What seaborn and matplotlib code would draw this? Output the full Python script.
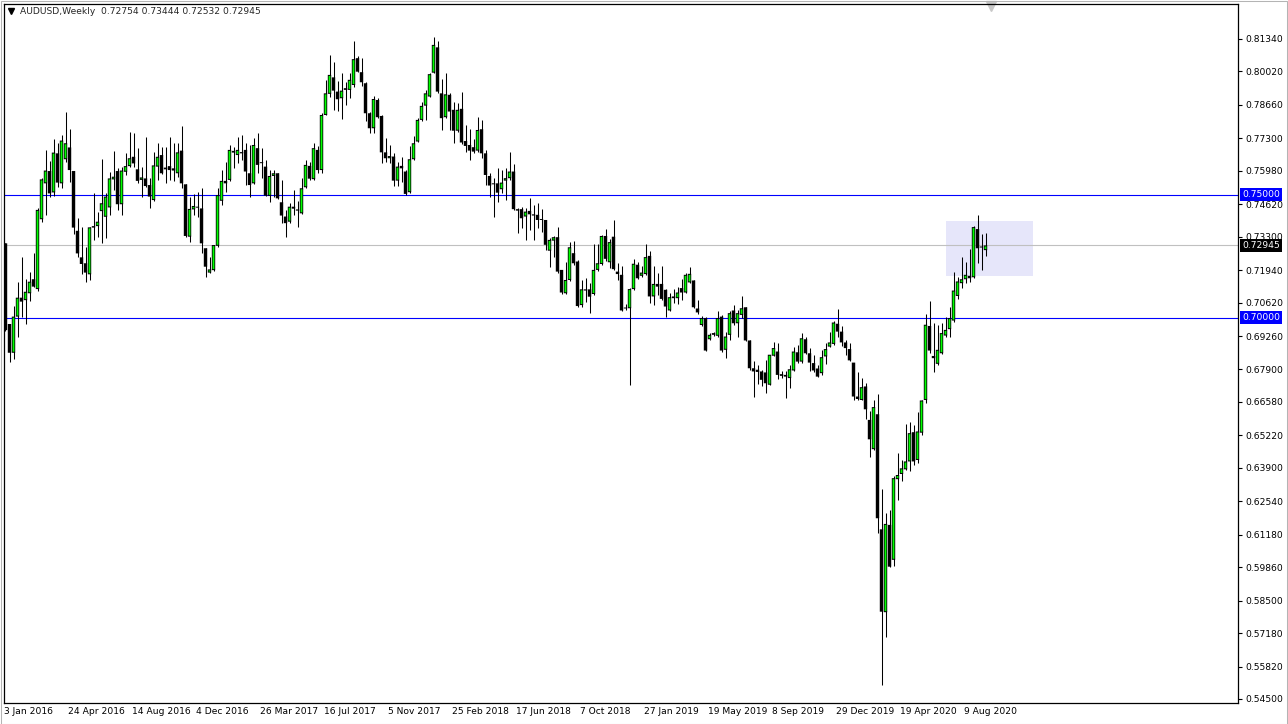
import numpy as np
import pandas as pd
import matplotlib.pyplot as plt
import seaborn as sns
from matplotlib.patches import Rectangle
from matplotlib.transforms import ScaledTranslation

# estilo base
sns.set_style("white")
plt.rcParams['font.family'] = ['DejaVu Sans']

# AUDUSD semanal, 3 Jan 2016 .. 13 Sep 2020
opens = [
    0.7303, 0.6975, 0.6858, 0.7005, 0.7082, 0.7072, 0.7100, 0.7157, 0.7117, 0.7401,
    0.7547, 0.7597, 0.7510, 0.7669, 0.7547, 0.7645, 0.7693, 0.7597, 0.7354, 0.7246,
    0.7222, 0.7177, 0.7367, 0.7373, 0.7434, 0.7411, 0.7449, 0.7563, 0.7597, 0.7462,
    0.7594, 0.7617, 0.7655, 0.7604, 0.7561, 0.7567, 0.7540, 0.7479, 0.7615, 0.7662,
    0.7611, 0.7617, 0.7608, 0.7588, 0.7680, 0.7543, 0.7330, 0.7441, 0.7449, 0.7445,
    0.7283, 0.7184, 0.7194, 0.7293, 0.7476, 0.7557, 0.7561, 0.7679, 0.7662, 0.7674,
    0.7683, 0.7588, 0.7547, 0.7690, 0.7631, 0.7615, 0.7496, 0.7577, 0.7588, 0.7470,
    0.7412, 0.7391, 0.7452, 0.7441, 0.7425, 0.7531, 0.7618, 0.7564, 0.7683, 0.7601,
    0.7825, 0.7911, 0.7978, 0.7920, 0.7893, 0.7927, 0.7927, 0.7947, 0.8056, 0.7999,
    0.7954, 0.7832, 0.7771, 0.7886, 0.7821, 0.7673, 0.7649, 0.7656, 0.7558, 0.7618,
    0.7595, 0.7511, 0.7645, 0.7717, 0.7805, 0.7863, 0.7900, 0.7997, 0.8100, 0.7913,
    0.7816, 0.7907, 0.7846, 0.7761, 0.7850, 0.7719, 0.7703, 0.7694, 0.7680, 0.7767,
    0.7669, 0.7577, 0.7547, 0.7547, 0.7523, 0.7558, 0.7568, 0.7595, 0.7442, 0.7442,
    0.7412, 0.7435, 0.7421, 0.7419, 0.7401, 0.7398, 0.7273, 0.7314, 0.7328, 0.7195,
    0.7100, 0.7154, 0.7263, 0.7229, 0.7052, 0.7116, 0.7116, 0.7097, 0.7195, 0.7219,
    0.7333, 0.7226, 0.7330, 0.7188, 0.7175, 0.7039, 0.7039, 0.7117, 0.7216, 0.7171,
    0.7178, 0.7252, 0.7087, 0.7138, 0.7138, 0.7114, 0.7030, 0.7087, 0.7080, 0.7121,
    0.7103, 0.7144, 0.7152, 0.7038, 0.6971, 0.6999, 0.6913, 0.6931, 0.6927, 0.7005,
    0.6870, 0.6931, 0.7030, 0.6978, 0.7012, 0.7043, 0.6908, 0.6795, 0.6789, 0.6782,
    0.6778, 0.6728, 0.6846, 0.6863, 0.6771, 0.6768, 0.6755, 0.6786, 0.6860, 0.6822,
    0.6913, 0.6856, 0.6816, 0.6794, 0.6775, 0.6843, 0.6883, 0.6894, 0.6976, 0.6944,
    0.6900, 0.6873, 0.6818, 0.6680, 0.6666, 0.6721, 0.6585, 0.6466, 0.6608, 0.6140,
    0.5803, 0.6158, 0.6016, 0.6344, 0.6365, 0.6384, 0.6416, 0.6535, 0.6422, 0.6533,
    0.6666, 0.6967, 0.6845, 0.6813, 0.6856, 0.6928, 0.6954, 0.6989, 0.7089, 0.7141,
    0.7157, 0.7171, 0.7165, 0.7361, 0.7290, 0.72754,
]
highs = [
    0.7306, 0.6975, 0.7048, 0.7147, 0.7249, 0.7157, 0.7188, 0.7262, 0.7445, 0.7570,
    0.7683, 0.7638, 0.7727, 0.7710, 0.7744, 0.7836, 0.7768, 0.7597, 0.7405, 0.7371,
    0.7289, 0.7368, 0.7506, 0.7432, 0.7645, 0.7506, 0.7594, 0.7680, 0.7608, 0.7615,
    0.7669, 0.7757, 0.7750, 0.7689, 0.7615, 0.7737, 0.7567, 0.7676, 0.7712, 0.7696,
    0.7696, 0.7734, 0.7710, 0.7710, 0.7780, 0.7543, 0.7493, 0.7502, 0.7513, 0.7527,
    0.7283, 0.7249, 0.7296, 0.7527, 0.7601, 0.7635, 0.7703, 0.7696, 0.7737, 0.7744,
    0.7710, 0.7703, 0.7730, 0.7751, 0.7690, 0.7642, 0.7601, 0.7600, 0.7591, 0.7561,
    0.7439, 0.7466, 0.7520, 0.7475, 0.7568, 0.7642, 0.7635, 0.7713, 0.7699, 0.7835,
    0.7968, 0.8069, 0.8042, 0.7965, 0.7995, 0.7961, 0.7997, 0.8124, 0.8063, 0.8056,
    0.7961, 0.7839, 0.7903, 0.7893, 0.7825, 0.7730, 0.7703, 0.7672, 0.7635, 0.7656,
    0.7601, 0.7699, 0.7740, 0.7812, 0.7879, 0.7927, 0.7995, 0.8141, 0.8124, 0.7970,
    0.7995, 0.7913, 0.7879, 0.7873, 0.7920, 0.7785, 0.7767, 0.7726, 0.7816, 0.7805,
    0.7683, 0.7588, 0.7568, 0.7608, 0.7602, 0.7608, 0.7676, 0.7626, 0.7446, 0.7452,
    0.7446, 0.7486, 0.7459, 0.7466, 0.7442, 0.7398, 0.7324, 0.7333, 0.7368, 0.7195,
    0.7229, 0.7310, 0.7314, 0.7236, 0.7154, 0.7161, 0.7143, 0.7299, 0.7301, 0.7337,
    0.7360, 0.7320, 0.7398, 0.7222, 0.7212, 0.7057, 0.7121, 0.7239, 0.7229, 0.7209,
    0.7301, 0.7270, 0.7209, 0.7184, 0.7209, 0.7117, 0.7100, 0.7117, 0.7127, 0.7157,
    0.7184, 0.7206, 0.7155, 0.7073, 0.7008, 0.7003, 0.6938, 0.6944, 0.7026, 0.7012,
    0.6944, 0.7026, 0.7053, 0.7033, 0.7087, 0.7046, 0.6908, 0.6823, 0.6809, 0.6789,
    0.6829, 0.6850, 0.6900, 0.6897, 0.6782, 0.6782, 0.6809, 0.6883, 0.6890, 0.6938,
    0.6924, 0.6877, 0.6850, 0.6809, 0.6870, 0.6897, 0.6944, 0.6989, 0.7035, 0.6965,
    0.6911, 0.6897, 0.6818, 0.6778, 0.6755, 0.6737, 0.6623, 0.6664, 0.6691, 0.6303,
    0.6205, 0.6219, 0.6355, 0.6449, 0.6420, 0.6569, 0.6578, 0.6565, 0.6619, 0.6666,
    0.7016, 0.7070, 0.6981, 0.6972, 0.6981, 0.7003, 0.7043, 0.7188, 0.7168, 0.7247,
    0.7229, 0.7279, 0.7372, 0.7419, 0.7340, 0.73444,
]
lows = [
    0.6948, 0.6822, 0.6831, 0.6921, 0.7005, 0.6977, 0.7068, 0.7124, 0.7110, 0.7391,
    0.7417, 0.7493, 0.7497, 0.7533, 0.7527, 0.7632, 0.7554, 0.7340, 0.7249, 0.7177,
    0.7147, 0.7154, 0.7316, 0.7327, 0.7303, 0.7326, 0.7418, 0.7520, 0.7439, 0.7418,
    0.7581, 0.7615, 0.7615, 0.7550, 0.7493, 0.7533, 0.7445, 0.7476, 0.7561, 0.7585,
    0.7547, 0.7561, 0.7558, 0.7574, 0.7527, 0.7330, 0.7310, 0.7418, 0.7411, 0.7262,
    0.7167, 0.7181, 0.7192, 0.7289, 0.7459, 0.7513, 0.7558, 0.7608, 0.7628, 0.7642,
    0.7540, 0.7493, 0.7545, 0.7588, 0.7568, 0.7497, 0.7473, 0.7493, 0.7482, 0.7385,
    0.7330, 0.7387, 0.7418, 0.7371, 0.7422, 0.7527, 0.7561, 0.7561, 0.7591, 0.7588,
    0.7825, 0.7900, 0.7846, 0.7842, 0.7808, 0.7866, 0.7893, 0.7940, 0.8001, 0.7943,
    0.7802, 0.7751, 0.7751, 0.7812, 0.7629, 0.7635, 0.7629, 0.7536, 0.7536, 0.7554,
    0.7500, 0.7507, 0.7642, 0.7717, 0.7802, 0.7805, 0.7900, 0.7997, 0.7913, 0.7764,
    0.7812, 0.7764, 0.7713, 0.7757, 0.7707, 0.7676, 0.7642, 0.7669, 0.7676, 0.7649,
    0.7541, 0.7493, 0.7412, 0.7473, 0.7509, 0.7480, 0.7561, 0.7439, 0.7347, 0.7364,
    0.7317, 0.7358, 0.7317, 0.7364, 0.7351, 0.7276, 0.7206, 0.7249, 0.7184, 0.7097,
    0.7097, 0.7151, 0.7215, 0.7046, 0.7046, 0.7066, 0.7021, 0.7093, 0.7192, 0.7215,
    0.7230, 0.7202, 0.7195, 0.7155, 0.7029, 0.7033, 0.6725, 0.7114, 0.7157, 0.7168,
    0.7175, 0.7062, 0.7053, 0.7094, 0.7071, 0.7003, 0.7026, 0.7062, 0.7057, 0.7073,
    0.7100, 0.7141, 0.7039, 0.7016, 0.6965, 0.6867, 0.6911, 0.6927, 0.6924, 0.6863,
    0.6836, 0.6911, 0.6972, 0.6924, 0.6999, 0.6904, 0.6789, 0.6680, 0.6732, 0.6721,
    0.6694, 0.6725, 0.6843, 0.6751, 0.6755, 0.6673, 0.6714, 0.6782, 0.6818, 0.6818,
    0.6852, 0.6782, 0.6778, 0.6759, 0.6768, 0.6813, 0.6881, 0.6890, 0.6924, 0.6886,
    0.6850, 0.6823, 0.6667, 0.6664, 0.6664, 0.6588, 0.6436, 0.6463, 0.6124, 0.5507,
    0.5701, 0.5986, 0.5991, 0.6260, 0.6338, 0.6382, 0.6379, 0.6402, 0.6409, 0.6524,
    0.6653, 0.6856, 0.6778, 0.6809, 0.6854, 0.6924, 0.6924, 0.6985, 0.7076, 0.7121,
    0.7141, 0.7144, 0.7161, 0.7225, 0.7193, 0.72532,
]
closes = [
    0.6950, 0.6858, 0.7005, 0.7082, 0.7066, 0.7106, 0.7147, 0.7127, 0.7439, 0.7563,
    0.7599, 0.7506, 0.7672, 0.7550, 0.7721, 0.7710, 0.7601, 0.7367, 0.7262, 0.7219,
    0.7184, 0.7368, 0.7373, 0.7391, 0.7466, 0.7493, 0.7567, 0.7574, 0.7462, 0.7599,
    0.7617, 0.7649, 0.7628, 0.7557, 0.7571, 0.7536, 0.7493, 0.7620, 0.7655, 0.7588,
    0.7604, 0.7601, 0.7599, 0.7673, 0.7547, 0.7333, 0.7443, 0.7455, 0.7448, 0.7303,
    0.7208, 0.7197, 0.7296, 0.7499, 0.7557, 0.7547, 0.7683, 0.7672, 0.7683, 0.7669,
    0.7595, 0.7540, 0.7703, 0.7622, 0.7629, 0.7497, 0.7577, 0.7588, 0.7486, 0.7416,
    0.7385, 0.7452, 0.7444, 0.7436, 0.7527, 0.7622, 0.7566, 0.7690, 0.7601, 0.7825,
    0.7913, 0.7988, 0.7924, 0.7889, 0.7924, 0.7934, 0.7968, 0.8052, 0.8001, 0.7958,
    0.7832, 0.7771, 0.7890, 0.7816, 0.7673, 0.7649, 0.7658, 0.7558, 0.7615, 0.7608,
    0.7504, 0.7645, 0.7710, 0.7805, 0.7862, 0.7913, 0.7991, 0.8110, 0.7920, 0.7812,
    0.7909, 0.7839, 0.7761, 0.7846, 0.7713, 0.7699, 0.7680, 0.7676, 0.7764, 0.7669,
    0.7581, 0.7538, 0.7543, 0.7509, 0.7550, 0.7568, 0.7595, 0.7442, 0.7436, 0.7405,
    0.7432, 0.7421, 0.7416, 0.7398, 0.7398, 0.7297, 0.7317, 0.7328, 0.7188, 0.7103,
    0.7154, 0.7287, 0.7222, 0.7048, 0.7116, 0.7111, 0.7086, 0.7195, 0.7222, 0.7333,
    0.7240, 0.7308, 0.7198, 0.7178, 0.7030, 0.7038, 0.7117, 0.7220, 0.7161, 0.7184,
    0.7247, 0.7087, 0.7138, 0.7127, 0.7077, 0.7046, 0.7084, 0.7080, 0.7103, 0.7103,
    0.7175, 0.7179, 0.7043, 0.7022, 0.6999, 0.6867, 0.6931, 0.6938, 0.6999, 0.6867,
    0.6924, 0.7019, 0.6978, 0.7019, 0.7039, 0.6908, 0.6795, 0.6782, 0.6780, 0.6748,
    0.6734, 0.6850, 0.6877, 0.6768, 0.6764, 0.6761, 0.6791, 0.6863, 0.6822, 0.6917,
    0.6856, 0.6818, 0.6786, 0.6761, 0.6840, 0.6873, 0.6900, 0.6981, 0.6944, 0.6900,
    0.6877, 0.6827, 0.6680, 0.6670, 0.6718, 0.6628, 0.6506, 0.6637, 0.6185, 0.5805,
    0.6162, 0.5988, 0.6348, 0.6361, 0.6388, 0.6416, 0.6531, 0.6416, 0.6538, 0.6664,
    0.6972, 0.6867, 0.6836, 0.6870, 0.6938, 0.6951, 0.6999, 0.7111, 0.7148, 0.7157,
    0.7175, 0.7161, 0.7369, 0.7283, 0.7286, 0.72945,
]

date_labels = ['3 Jan 2016', '24 Apr 2016', '14 Aug 2016', '4 Dec 2016', '26 Mar 2017',
               '16 Jul 2017', '5 Nov 2017', '25 Feb 2018', '17 Jun 2018', '7 Oct 2018',
               '27 Jan 2019', '19 May 2019', '8 Sep 2019', '29 Dec 2019', '19 Apr 2020',
               '9 Aug 2020']
date_weeks = [0, 16, 32, 48, 64, 80, 96, 112, 128, 144, 160, 176, 192, 208, 224, 240]
price_ticks = [0.81340, 0.80020, 0.78660, 0.77300, 0.75980, 0.74620, 0.73300, 0.71940,
               0.70620, 0.69260, 0.67900, 0.66580, 0.65220, 0.63900, 0.62540, 0.61180,
               0.59860, 0.58500, 0.57180, 0.55820, 0.54500]
levels = [0.75000, 0.70000]
last_price = 0.72945
header = 'AUDUSD,Weekly  0.72754 0.73444 0.72532 0.72945'

# zona marcada (retangulo lavanda)
zone_weeks = (235.0, 256.75)
zone_prices = (0.7171, 0.7394)

W, H = 1288, 724
y_lo, y_hi = 0.54337, 0.82763
px = (y_hi - y_lo) / 699  # um pixel em preco

df = pd.DataFrame({'open': opens, 'high': highs, 'low': lows, 'close': closes})
df['week'] = np.arange(len(df))
df['bottom'] = df[['open', 'close']].min(axis=1)
df['size'] = (df['close'] - df['open']).abs()
up = (df['close'] > df['open']) & (df['size'] > 2 * px)

fig = plt.figure(figsize=(W / 100, H / 100), dpi=100)
ax = fig.add_axes([4 / W, 1 - 703 / H, (1238 - 4) / W, (703 - 4) / H])
fs = 6.6

# moldura cinza da janela
fig.patches.append(Rectangle((0.5 / W, 0.5 / H), 1 - 1.5 / W, 1 - 1.5 / H,
                             transform=fig.transFigure, fill=False,
                             edgecolor='#b4b4b4', lw=0.75))

ax.add_patch(Rectangle((zone_weeks[0], zone_prices[0]), zone_weeks[1] - zone_weeks[0],
                       zone_prices[1] - zone_prices[0], facecolor='#e6e6fa',
                       edgecolor='none', zorder=0.5))
for lvl in levels:
    ax.axhline(lvl, color='#0000ff', lw=0.8, zorder=1)
ax.axhline(last_price, color='#c0c0c0', lw=0.8, zorder=1)

# pavios
ax.vlines(df['week'], df['low'], df['high'], color='black', lw=0.75, zorder=2)
# corpo preto (contorno) para todas as velas
ax.bar(df['week'], np.maximum(df['size'], px), bottom=df['bottom'], width=0.85,
       color='black', linewidth=0, zorder=3, snap=False)
# miolo verde das velas de alta
ax.bar(df['week'][up], df['size'][up] - 2 * px, bottom=df['bottom'][up] + px,
       width=0.45, color='#00ff00', linewidth=0, zorder=4, snap=False)

ax.set_xlim(-0.375, 308.125)
ax.set_ylim(y_lo, y_hi)

ax.yaxis.tick_right()
ax.set_yticks(price_ticks)
ax.set_yticklabels([f'{p:.5f}' for p in price_ticks], fontsize=fs)
ax.set_xticks(date_weeks)
ax.set_xticklabels(date_labels, fontsize=fs, ha='left')
ax.tick_params(axis='y', direction='out', length=3, width=0.8, pad=2, colors='black')
ax.tick_params(axis='x', direction='out', length=3, width=0.8, pad=0, colors='black')
shift = ScaledTranslation(-1.5 / 100, 0, fig.dpi_scale_trans)
for lab in ax.get_xticklabels():
    lab.set_transform(lab.get_transform() + shift)
for s in ax.spines.values():
    s.set_color('black')
    s.set_linewidth(0.9)

# caixas de preco no eixo direito
for lvl, fc in [(levels[0], '#0000ff'), (levels[1], '#0000ff'), (last_price, 'black')]:
    ax.annotate(f'{lvl:.5f}', xy=(1, lvl), xycoords=('axes fraction', 'data'),
                xytext=(4, 0), textcoords='offset pixels', fontsize=fs, color='white',
                ha='left', va='center', annotation_clip=False, zorder=5,
                bbox=dict(boxstyle='square,pad=0.22', fc=fc, ec='none'))

# cabecalho
ax.plot(11 / W, 1 - 11 / H, marker='v', ms=4, color='black',
        transform=fig.transFigure, clip_on=False)
fig.text(20 / W, 1 - 12 / H, header, fontsize=fs, ha='left', va='center')
ax.plot(991 / W, 1 - 6 / H, marker='v', ms=7, color='#c8c8c8',
        transform=fig.transFigure, clip_on=False)

fig.savefig('out.png', dpi=100)
